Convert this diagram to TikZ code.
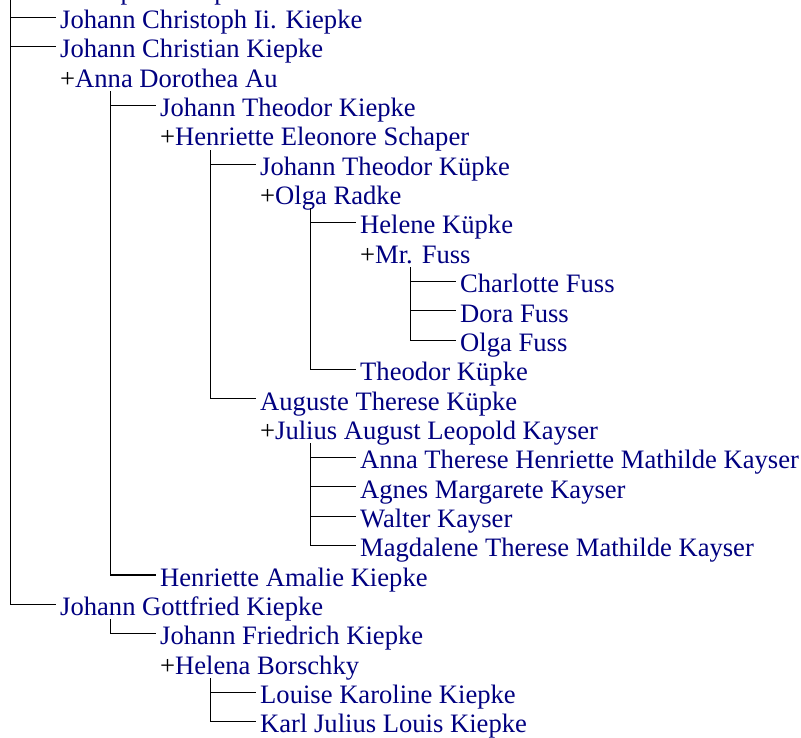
\documentclass[tikz,border=0pt]{standalone}
\usepackage{fontspec}
\setmainfont{Liberation Serif}
\definecolor{navy}{RGB}{0,0,128}
\tikzset{
  person/.style={anchor=west, inner xsep=4.5bp, inner ysep=0pt, text height=22.4bp, text depth=0pt,
    font=\fontsize{26.6bp}{30bp}\selectfont, text=navy},
  link/.style={draw=black, line width=1.1bp}
}
\newcommand{\spo}{{\color{black}+}}
\begin{document}
\begin{tikzpicture}[x=1bp,y=-1bp]
\useasboundingbox (0,0) rectangle (801,738);
\clip (0,0) rectangle (801,738);
\node[person] (r0) at (-44.5,-12.05) {Johann Christoph I. Kiepke};
\node[person] (r1) at (55.5,17.30) {Johann Christoph Ii. Kiepke};
\node[person] (r2) at (55.5,46.65) {Johann Christian Kiepke};
\node[person] (r3) at (55.5,76.00) {\spo Anna Dorothea Au};
\node[person] (r4) at (155.5,105.35) {Johann Theodor Kiepke};
\node[person] (r5) at (155.5,134.70) {\spo Henriette Eleonore Schaper};
\node[person] (r6) at (255.5,164.05) {Johann Theodor Küpke};
\node[person] (r7) at (255.5,193.40) {\spo Olga Radke};
\node[person] (r8) at (355.5,222.75) {Helene Küpke};
\node[person] (r9) at (355.5,252.10) {\spo Mr. Fuss};
\node[person] (r10) at (455.5,281.45) {Charlotte Fuss};
\node[person] (r11) at (455.5,310.80) {Dora Fuss};
\node[person] (r12) at (455.5,340.15) {Olga Fuss};
\node[person] (r13) at (355.5,369.50) {Theodor Küpke};
\node[person] (r14) at (255.5,398.85) {Auguste Therese Küpke};
\node[person] (r15) at (255.5,428.20) {\spo Julius August Leopold Kayser};
\node[person] (r16) at (355.5,457.55) {Anna Therese Henriette Mathilde Kayser};
\node[person] (r17) at (355.5,486.90) {Agnes Margarete Kayser};
\node[person] (r18) at (355.5,516.25) {Walter Kayser};
\node[person] (r19) at (355.5,545.60) {Magdalene Therese Mathilde Kayser};
\node[person] (r20) at (155.5,574.95) {Henriette Amalie Kiepke};
\node[person] (r21) at (55.5,604.30) {Johann Gottfried Kiepke};
\node[person] (r22) at (155.5,633.65) {Johann Friedrich Kiepke};
\node[person] (r23) at (155.5,663.00) {\spo Helena Borschky};
\node[person] (r24) at (255.5,692.35) {Louise Karoline Kiepke};
\node[person] (r25) at (255.5,721.70) {Karl Julius Louis Kiepke};
% branch tops
\coordinate (t1) at (10.5,-5);
\coordinate (t2) at (110.5,91);
\coordinate (t3) at (210.5,150);
\coordinate (t4) at (310.5,208.4);
\coordinate (t5) at (410.5,267.1);
\coordinate (t6) at (310.5,443.2);
\coordinate (t7) at (110.5,619.3);
\coordinate (t8) at (210.5,678);
% connectors: one vertical+last elbow per family, plus horizontals for others
\draw[link] (t1) |- (r21.west) (t1 |- r1.west) -- (r1.west) (t1 |- r2.west) -- (r2.west);
\draw[link] (t2) |- (r20.west) (t2 |- r4.west) -- (r4.west);
\draw[link] (t3) |- (r14.west) (t3 |- r6.west) -- (r6.west);
\draw[link] (t4) |- (r13.west) (t4 |- r8.west) -- (r8.west);
\draw[link] (t5) |- (r12.west) (t5 |- r10.west) -- (r10.west) (t5 |- r11.west) -- (r11.west);
\draw[link] (t6) |- (r19.west) (t6 |- r16.west) -- (r16.west) (t6 |- r17.west) -- (r17.west) (t6 |- r18.west) -- (r18.west);
\draw[link] (t7) |- (r22.west);
\draw[link] (t8) |- (r25.west) (t8 |- r24.west) -- (r24.west);
\end{tikzpicture}
\end{document}
